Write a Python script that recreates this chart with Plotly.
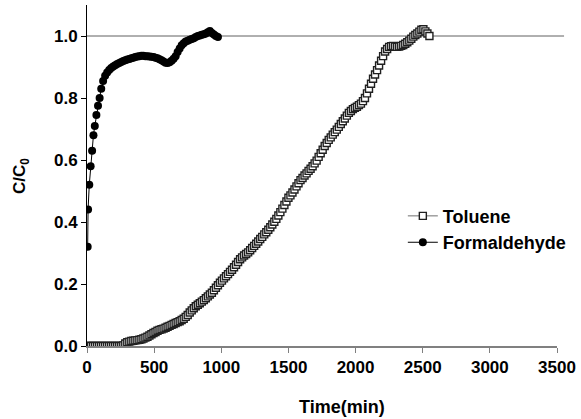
import plotly.graph_objects as go

# ---- data ----
toluene_t = [0, 15, 30, 45, 60, 75, 90, 105, 120, 135, 150, 165, 180, 195, 210, 225, 240, 255,
             270, 285, 300, 315, 330, 345, 360, 375, 390, 405, 420, 435, 450, 465, 480, 495, 510, 525,
             540, 555, 570, 585, 600, 615, 630, 645, 660, 675, 690, 705, 720, 735, 750, 765, 780, 795,
             810, 825, 840, 855, 870, 885, 900, 915, 930, 945, 960, 975, 990, 1005, 1020, 1035, 1050, 1065,
             1080, 1095, 1110, 1125, 1140, 1155, 1170, 1185, 1200, 1215, 1230, 1245, 1260, 1275, 1290, 1305,
             1320, 1335, 1350, 1365, 1380, 1395, 1410, 1425, 1440, 1455, 1470, 1485, 1500, 1515, 1530, 1545,
             1560, 1575, 1590, 1605, 1620, 1635, 1650, 1665, 1680, 1695, 1710, 1725, 1740, 1755, 1770, 1785,
             1800, 1815, 1830, 1845, 1860, 1875, 1890, 1905, 1920, 1935, 1950, 1965, 1980, 1995, 2010, 2025,
             2040, 2055, 2070, 2085, 2100, 2115, 2130, 2145, 2160, 2175, 2190, 2205, 2220, 2235, 2250, 2265,
             2280, 2295, 2310, 2325, 2340, 2355, 2370, 2385, 2400, 2415, 2430, 2445, 2460, 2475, 2490, 2505,
             2520, 2535, 2550]
toluene_c = [0, 0, 0, 0, 0, 0, 0, 0, 0, 0, 0, 0, 0, 0, 0, 0, 0, 0,
             0.002, 0.008, 0.012, 0.014, 0.016, 0.017, 0.018, 0.019, 0.020, 0.022, 0.024, 0.027, 0.030, 0.034,
             0.038, 0.042, 0.045, 0.049, 0.052, 0.054, 0.056, 0.059, 0.062, 0.065, 0.068, 0.071, 0.074, 0.077,
             0.080, 0.084, 0.088, 0.094, 0.100, 0.108, 0.115, 0.122, 0.128, 0.133, 0.138, 0.143, 0.148, 0.154,
             0.160, 0.166, 0.172, 0.180, 0.188, 0.196, 0.204, 0.211, 0.218, 0.225, 0.232, 0.239, 0.246, 0.254,
             0.262, 0.271, 0.280, 0.286, 0.292, 0.297, 0.302, 0.309, 0.316, 0.323, 0.330, 0.337, 0.345, 0.352,
             0.360, 0.367, 0.375, 0.383, 0.392, 0.401, 0.410, 0.421, 0.432, 0.443, 0.455, 0.466, 0.478, 0.486,
             0.495, 0.505, 0.515, 0.525, 0.535, 0.542, 0.550, 0.557, 0.565, 0.572, 0.580, 0.589, 0.598, 0.610,
             0.622, 0.633, 0.645, 0.655, 0.665, 0.673, 0.682, 0.690, 0.698, 0.707, 0.716, 0.725, 0.734, 0.743,
             0.752, 0.758, 0.764, 0.768, 0.772, 0.777, 0.782, 0.790, 0.800, 0.815, 0.830, 0.846, 0.862, 0.876,
             0.890, 0.905, 0.920, 0.935, 0.950, 0.958, 0.965, 0.967, 0.968, 0.966, 0.965, 0.966, 0.968, 0.971,
             0.975, 0.980, 0.985, 0.991, 0.998, 1.003, 1.008, 1.014, 1.020, 1.022, 1.015, 1.008, 1.000]

formal_t = [5, 8, 17, 27, 38, 48, 58, 70, 82, 94, 106, 120, 135, 150, 165, 180, 195, 210, 225, 240, 255, 270, 285,
            300, 315, 330, 345, 360, 375, 390, 405, 420, 435, 450, 465, 480, 495, 510, 525, 540, 555, 570, 585, 600,
            615, 630, 645, 660, 675, 690, 705, 720, 735, 750, 765, 780, 795, 810, 825, 840, 855, 870, 885, 900, 915,
            930, 945, 960, 975]
formal_c = [0.32, 0.44, 0.52, 0.58, 0.63, 0.68, 0.71, 0.745, 0.775, 0.80, 0.83, 0.855, 0.872, 0.882, 0.89, 0.897,
            0.902, 0.906, 0.91, 0.913, 0.916, 0.919, 0.922, 0.924, 0.926, 0.928, 0.93, 0.932, 0.934, 0.935, 0.936,
            0.936, 0.935, 0.935, 0.934, 0.933, 0.932, 0.93, 0.928, 0.925, 0.922, 0.918, 0.914, 0.913, 0.915, 0.92,
            0.927, 0.935, 0.948, 0.96, 0.97, 0.977, 0.982, 0.985, 0.988, 0.99, 0.993, 0.997, 1.0, 1.002, 1.004, 1.006,
            1.008, 1.012, 1.016, 1.01, 1.005, 1.0, 0.997]

x_ticks = [0, 500, 1000, 1500, 2000, 2500, 3000, 3500]
y_ticks = [0.0, 0.2, 0.4, 0.6, 0.8, 1.0]
y_tick_labels = ["0.0", "0.2", "0.4", "0.6", "0.8", "1.0"]
ref_level = 1.0

FONT = "Liberation Sans"

fig = go.Figure()
fig.add_trace(go.Scatter(
    x=toluene_t, y=toluene_c, name="Toluene", mode="lines+markers",
    line=dict(color="#707070", width=1),
    marker=dict(symbol="square", size=7, color="white", line=dict(color="#202020", width=1.4)),
))
fig.add_trace(go.Scatter(
    x=formal_t, y=formal_c, name="Formaldehyde", mode="lines+markers",
    line=dict(color="black", width=1),
    marker=dict(symbol="circle", size=8, color="black"),
))

fig.add_shape(type="line", xref="paper", yref="y", x0=0, x1=1.015, y0=ref_level, y1=ref_level,
              line=dict(color="#606060", width=1), layer="below")

fig.update_layout(
    width=581, height=419,
    margin=dict(l=87, r=21, t=5, b=73),
    paper_bgcolor="white", plot_bgcolor="white",
    font=dict(family=FONT, size=17, color="black"),
    showlegend=True,
    legend=dict(x=0.672, y=0.435, xanchor="left", yanchor="top",
                font=dict(family=FONT, size=18, color="black", weight="bold"),
                bgcolor="rgba(0,0,0,0)", tracegroupgap=0),
    xaxis=dict(range=[0, 3500], tickvals=x_ticks, ticks="outside", ticklen=5, tickcolor="#808080",
               showline=True, linecolor="#808080", linewidth=1.5, showgrid=False, zeroline=False,
               tickfont=dict(family=FONT, size=17, weight="bold")),
    yaxis=dict(range=[0, 1.1], tickvals=y_ticks, ticktext=y_tick_labels, ticks="outside", ticklen=5,
               tickcolor="black", showline=True, linecolor="black", linewidth=1, showgrid=False,
               zeroline=False, tickfont=dict(family=FONT, size=17, weight="bold")),
    annotations=[
        dict(text="<b>Time(min)</b>", xref="paper", yref="paper", x=0.543, y=-0.179,
             xanchor="center", yanchor="middle", showarrow=False, font=dict(family=FONT, size=18)),
        dict(text="<b>C/C<sub>0</sub></b>", xref="paper", yref="paper", x=-0.1416, y=0.5,
             xanchor="center", yanchor="middle", textangle=-90, showarrow=False, font=dict(family=FONT, size=17)),
    ],
)

fig.write_html("out.html", config={"displayModeBar": False},
               post_script="document.body.style.margin='0';document.body.style.padding='0';")
